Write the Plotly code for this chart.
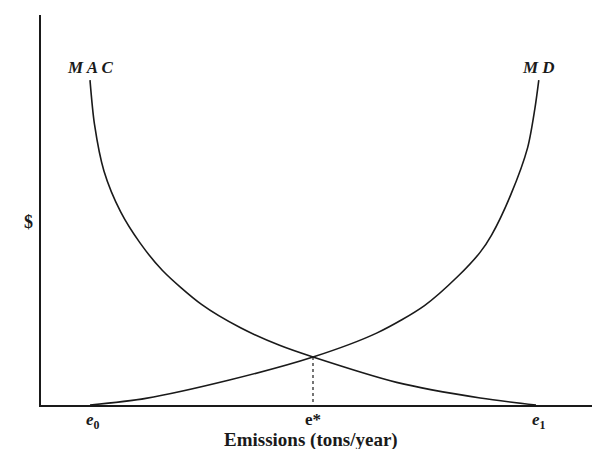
import plotly.graph_objects as go

# Emissions (normalised units) and $ values
mac_x = [0, 0.08, 0.25, 0.55, 0.9, 1.3, 2.0, 2.7, 3.4, 4.0, 5.5, 7.0, 8.0]
mac_y = [8.33, 7.2, 6.0, 4.95, 4.15, 3.45, 2.58, 1.98, 1.53, 1.23, 0.58, 0.18, 0.0]
md_x = [0, 1.0, 2.5, 4.0, 5.15, 6.0, 6.6, 7.0, 7.2, 7.55, 7.85, 7.98, 8.05]
md_y = [0, 0.17, 0.64, 1.23, 1.85, 2.55, 3.3, 3.92, 4.35, 5.4, 6.6, 7.6, 8.33]
e_star_x = 4.0
e_star_y = 1.23
tick_x = [0, 4.0, 8.0]
tick_labels = ["<i>e</i><sub>0</sub>", "e*", "<i>e</i><sub>1</sub>"]

serif = "Liberation Serif, Times New Roman, serif"
ink = "#1a1a1a"

fig = go.Figure()
fig.add_trace(go.Scatter(x=mac_x, y=mac_y, mode="lines",
                         line=dict(color=ink, width=1.6, shape="spline", smoothing=0.8),
                         hoverinfo="skip", showlegend=False))
fig.add_trace(go.Scatter(x=md_x, y=md_y, mode="lines",
                         line=dict(color=ink, width=1.6, shape="spline", smoothing=0.8),
                         hoverinfo="skip", showlegend=False))
fig.add_trace(go.Scatter(x=[e_star_x, e_star_x], y=[e_star_y, 0], mode="lines",
                         line=dict(color=ink, width=1.2, dash="dot"),
                         hoverinfo="skip", showlegend=False))

annots = []
for xv, lab in zip(tick_x, tick_labels):
    annots.append(dict(x=xv, y=0, xref="x", yref="y", text="<b>" + lab + "</b>",
                       showarrow=False, yanchor="top", yshift=-3,
                       xshift=3 if lab != "e*" else 0,
                       font=dict(family=serif, size=17, color=ink)))
annots.append(dict(x=mac_x[0], y=mac_y[0], xref="x", yref="y",
                   text="<b><i>M A C</i></b>", showarrow=False, yanchor="bottom", yshift=1,
                   font=dict(family=serif, size=17, color=ink)))
annots.append(dict(x=md_x[-1], y=md_y[-1], xref="x", yref="y",
                   text="<b><i>M D</i></b>", showarrow=False, yanchor="bottom", yshift=1,
                   font=dict(family=serif, size=17, color=ink)))
annots.append(dict(x=-0.023, y=0.469, xref="paper", yref="paper", text="<b>$</b>",
                   showarrow=False, xanchor="center", yanchor="middle",
                   font=dict(family=serif, size=18, color=ink)))
annots.append(dict(x=0.483, y=-0.09, xref="paper", yref="paper",
                   text="<b>Emissions (tons/year)</b>", showarrow=False,
                   xanchor="center", yanchor="middle",
                   font=dict(family=serif, size=19, color=ink)))

fig.update_layout(
    width=592, height=441,
    margin=dict(l=33, r=0, t=7, b=44),
    paper_bgcolor="white", plot_bgcolor="white",
    annotations=annots,
    xaxis=dict(range=[-0.879, 9.148], showgrid=False, zeroline=False, showticklabels=False,
               ticks="", showline=True, linecolor=ink, linewidth=1.5, fixedrange=True),
    yaxis=dict(range=[0, 10], showgrid=False, zeroline=False, showticklabels=False,
               ticks="", showline=True, linecolor=ink, linewidth=1.5, fixedrange=True),
)

fig.write_html("out.html")
